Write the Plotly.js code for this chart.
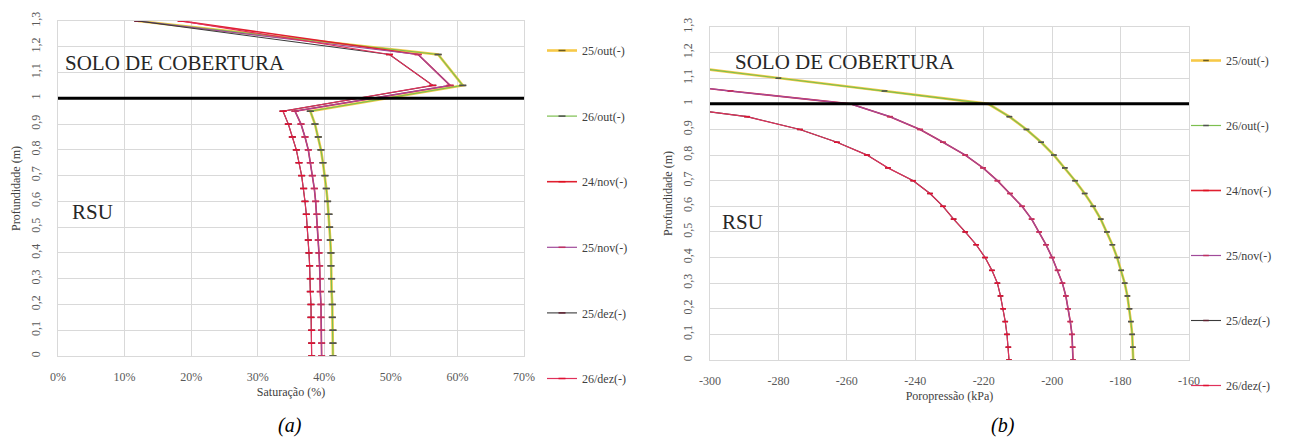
<!DOCTYPE html>
<html>
<head>
<meta charset="utf-8">
<script src="https://cdn.plot.ly/plotly-3.0.1.min.js"></script>
<style>html,body{margin:0;padding:0;background:#fff;}#chart{width:1294px;height:440px;}</style>
</head>
<body>
<div id="chart"></div>
<script>
// ---- Data ----
const seriesNames = ["25/out(-)", "26/out(-)", "24/nov(-)", "25/nov(-)", "25/dez(-)", "26/dez(-)"];

// (a) Saturação (%) vs Profundidade (m)
const depthA = [0, 0.05, 0.1, 0.15, 0.2, 0.25, 0.3, 0.35, 0.4, 0.45, 0.5, 0.55, 0.6, 0.65, 0.7, 0.75, 0.8, 0.85, 0.9, 0.95, 1.05, 1.17, 1.3];
const sat25out = [41.3, 41.3, 41.3, 41.2, 41.2, 41.1, 41.1, 41.0, 41.0, 40.9, 40.8, 40.7, 40.5, 40.3, 40.1, 39.8, 39.5, 39.1, 38.6, 37.9, 60.8, 57.1, 12.0];
const sat26out = [41.3, 41.3, 41.3, 41.2, 41.2, 41.1, 41.1, 41.0, 41.0, 40.9, 40.8, 40.7, 40.5, 40.3, 40.1, 39.8, 39.5, 39.1, 38.6, 37.9, 60.8, 57.1, 12.0];
const sat24nov = [39.6, 39.6, 39.6, 39.5, 39.5, 39.4, 39.4, 39.3, 39.2, 39.1, 39.0, 38.9, 38.7, 38.5, 38.2, 37.9, 37.6, 37.1, 36.5, 35.6, 58.9, 54.1, 18.5];
const sat25nov = [39.6, 39.6, 39.6, 39.5, 39.5, 39.4, 39.4, 39.3, 39.2, 39.1, 39.0, 38.9, 38.7, 38.5, 38.2, 37.9, 37.6, 37.1, 36.5, 35.6, 58.9, 54.1, 12.0];
const sat25dez = [38.1, 38.1, 38.1, 38.0, 38.0, 37.9, 37.9, 37.8, 37.7, 37.6, 37.5, 37.3, 37.1, 36.9, 36.6, 36.2, 35.8, 35.2, 34.6, 33.8, 56.3, 49.8, 12.0];
const sat26dez = [38.1, 38.1, 38.1, 38.0, 38.0, 37.9, 37.9, 37.8, 37.7, 37.6, 37.5, 37.3, 37.1, 36.9, 36.6, 36.2, 35.8, 35.2, 34.6, 33.8, 56.3, 49.8, 18.5];

// (b) Poropressão (kPa) vs Profundidade (m)
const depthB = [0, 0.05, 0.1, 0.15, 0.2, 0.25, 0.3, 0.35, 0.4, 0.45, 0.5, 0.55, 0.6, 0.65, 0.7, 0.75, 0.8, 0.85, 0.9, 0.95, 1.0, 1.05, 1.1, 1.15];
const por25out = [-176.3, -176.4, -176.6, -177.0, -177.4, -178.0, -178.8, -179.8, -181.0, -182.4, -184.0, -185.8, -188.0, -190.5, -193.3, -196.3, -199.5, -203.2, -207.5, -212.5, -218.7, -249, -280, -310];
const por26out = [-176.3, -176.4, -176.6, -177.0, -177.4, -178.0, -178.8, -179.8, -181.0, -182.4, -184.0, -185.8, -188.0, -190.5, -193.3, -196.3, -199.5, -203.2, -207.5, -212.5, -218.7, -249, -280, -310];
const por24nov = [-193.9, -194.0, -194.2, -194.7, -195.3, -196.0, -197.0, -198.4, -200.0, -201.8, -203.8, -206.0, -208.8, -212.3, -216.0, -220.2, -225.4, -231.9, -238.6, -247.4, -259.0, -294.0, -330, -360];
const por25nov = [-193.9, -194.0, -194.2, -194.7, -195.3, -196.0, -197.0, -198.4, -200.0, -201.8, -203.8, -206.0, -208.8, -212.3, -216.0, -220.2, -225.4, -231.9, -238.6, -247.4, -259.0, -294.0, -330, -360];
const por25dez = [-212.6, -212.8, -213.2, -213.7, -214.3, -215.1, -216.0, -217.6, -219.6, -222.2, -225.4, -228.8, -231.9, -235.7, -240.6, -248.0, -254.1, -262.9, -273.7, -289.2, -318, -350, -380, -410];
const por26dez = [-212.6, -212.8, -213.2, -213.7, -214.3, -215.1, -216.0, -217.6, -219.6, -222.2, -225.4, -228.8, -231.9, -235.7, -240.6, -248.0, -254.1, -262.9, -273.7, -289.2, -318, -350, -380, -410];

const yTickVals = [0, 0.1, 0.2, 0.3, 0.4, 0.5, 0.6, 0.7, 0.8, 0.9, 1, 1.1, 1.2, 1.3];
const yTickText = ["0", "0,1", "0,2", "0,3", "0,4", "0,5", "0,6", "0,7", "0,8", "0,9", "1", "1,1", "1,2", "1,3"];
const xTickValsA = [0, 10, 20, 30, 40, 50, 60, 70];
const xTickTextA = ["0%", "10%", "20%", "30%", "40%", "50%", "60%", "70%"];
const xTickValsB = [-300, -280, -260, -240, -220, -200, -180, -160];
const xTickTextB = ["-300", "-280", "-260", "-240", "-220", "-200", "-180", "-160"];

// ---- Styles ----
const lineColors = ["#F7C948", "#7DBF4F", "#E02030", "#A04A9A", "#3A3A3A", "#E0305A"];
const lineWidths = [2.6, 1.2, 1.6, 1.2, 1.1, 1.2];
const markerColors = ["#6A5A20", "#505050", "#E01020", "#C03060", "#602030", "#E01030"];
const serif = "Times New Roman, Liberation Serif, DejaVu Serif, serif";

const satSeries = [sat25out, sat26out, sat24nov, sat25nov, sat25dez, sat26dez];
const porSeries = [por25out, por26out, por24nov, por25nov, por25dez, por26dez];

const traces = [];
const order = [0, 1, 2, 3, 4, 5];
order.forEach(function(i) {
  traces.push({
    x: satSeries[i], y: depthA, xaxis: "x", yaxis: "y",
    type: "scatter", mode: "lines+markers", name: seriesNames[i],
    legend: "legend", legendgroup: "a" + i, legendrank: i + 1,
    line: {color: lineColors[i], width: lineWidths[i]},
    marker: {symbol: "line-ew", size: 5, line: {color: markerColors[i], width: 1.5}},
    cliponaxis: true
  });
});
order.forEach(function(i) {
  traces.push({
    x: porSeries[i], y: depthB, xaxis: "x2", yaxis: "y2",
    type: "scatter", mode: "lines+markers", name: seriesNames[i],
    legend: "legend2", legendgroup: "b" + i, legendrank: i + 1,
    line: {color: lineColors[i], width: lineWidths[i]},
    marker: {symbol: "line-ew", size: 4, line: {color: markerColors[i], width: 1.5}},
    cliponaxis: true
  });
});

const tickFont = {family: serif, size: 12, color: "#595959"};
const titleFont = {family: serif, size: 12, color: "#404040"};
const gridColor = "#D9D9D9";

const layout = {
  width: 1294, height: 440,
  margin: {l: 0, r: 0, t: 0, b: 0},
  paper_bgcolor: "#ffffff", plot_bgcolor: "#ffffff",
  showlegend: true,
  font: {family: serif, color: "#404040"},
  xaxis: {
    domain: [58/1294, 524/1294], range: [0, 70], anchor: "y",
    tickvals: xTickValsA, ticktext: xTickTextA, tickfont: tickFont, ticklabelstandoff: 10,
    showgrid: true, gridcolor: gridColor, zeroline: false,
    showline: true, linecolor: gridColor, mirror: true, ticks: "",
    title: {text: "Saturação (%)", font: titleFont, standoff: 4}
  },
  yaxis: {
    domain: [(440-356)/440, (440-21)/440], range: [0, 1.3], anchor: "x",
    tickvals: yTickVals, ticktext: yTickText, tickangle: -90, tickfont: tickFont, ticklabelstandoff: 12,
    showgrid: true, gridcolor: gridColor, zeroline: false,
    showline: true, linecolor: gridColor, mirror: true, ticks: "",
    title: {text: "Profundidade (m)", font: titleFont, standoff: 6}
  },
  xaxis2: {
    domain: [710/1294, 1189/1294], range: [-300, -160], anchor: "y2",
    tickvals: xTickValsB, ticktext: xTickTextB, tickfont: tickFont, ticklabelstandoff: 10,
    showgrid: true, gridcolor: gridColor, zeroline: false,
    showline: true, linecolor: gridColor, mirror: true, ticks: "",
    title: {text: "Poropressão (kPa)", font: titleFont, standoff: 4}
  },
  yaxis2: {
    domain: [(440-360)/440, (440-27)/440], range: [0, 1.3], anchor: "x2",
    tickvals: yTickVals, ticktext: yTickText, tickangle: -90, tickfont: tickFont, ticklabelstandoff: 12,
    showgrid: true, gridcolor: gridColor, zeroline: false,
    showline: true, linecolor: gridColor, mirror: true, ticks: "",
    title: {text: "Profundidade (m)", font: titleFont, standoff: 6}
  },
  legend: {
    x: 542/1294, xanchor: "left", y: 1 - 36/440, yanchor: "top",
    font: {family: serif, size: 12, color: "#404040"},
    tracegroupgap: 46.6, itemwidth: 30, bgcolor: "rgba(0,0,0,0)", traceorder: "grouped"
  },
  legend2: {
    x: 1186/1294, xanchor: "left", y: 1 - 46/440, yanchor: "top",
    font: {family: serif, size: 12, color: "#404040"},
    tracegroupgap: 46, itemwidth: 30, bgcolor: "rgba(0,0,0,0)", traceorder: "grouped"
  },
  shapes: [
    {type: "line", xref: "x domain", yref: "y", x0: 0, x1: 1, y0: 1, y1: 1, line: {color: "#000000", width: 3}},
    {type: "line", xref: "x2 domain", yref: "y2", x0: 0, x1: 1, y0: 1, y1: 1, line: {color: "#000000", width: 3}}
  ],
  annotations: [
    {xref: "paper", yref: "paper", x: 175/1294, y: 1 - 63/440, xanchor: "center", yanchor: "middle", text: "SOLO DE COBERTURA", showarrow: false,
     font: {family: serif, size: 21, color: "#262626"}},
    {xref: "paper", yref: "paper", x: 92/1294, y: 1 - 212/440, xanchor: "center", yanchor: "middle", text: "RSU", showarrow: false,
     font: {family: serif, size: 21, color: "#262626"}},
    {xref: "paper", yref: "paper", x: 845/1294, y: 1 - 62/440, xanchor: "center", yanchor: "middle", text: "SOLO DE COBERTURA", showarrow: false,
     font: {family: serif, size: 21, color: "#262626"}},
    {xref: "paper", yref: "paper", x: 742/1294, y: 1 - 222/440, xanchor: "center", yanchor: "middle", text: "RSU", showarrow: false,
     font: {family: serif, size: 21, color: "#262626"}},
    {xref: "paper", yref: "paper", x: 290/1294, y: 1 - 425/440, xanchor: "center", yanchor: "middle", text: "<i>(a)</i>", showarrow: false,
     font: {family: serif, size: 20, color: "#000000"}},
    {xref: "paper", yref: "paper", x: 1003/1294, y: 1 - 425/440, xanchor: "center", yanchor: "middle", text: "<i>(b)</i>", showarrow: false,
     font: {family: serif, size: 20, color: "#000000"}}
  ]
};

Plotly.newPlot("chart", traces, layout, {displayModeBar: false, staticPlot: true});
</script>
</body>
</html>
